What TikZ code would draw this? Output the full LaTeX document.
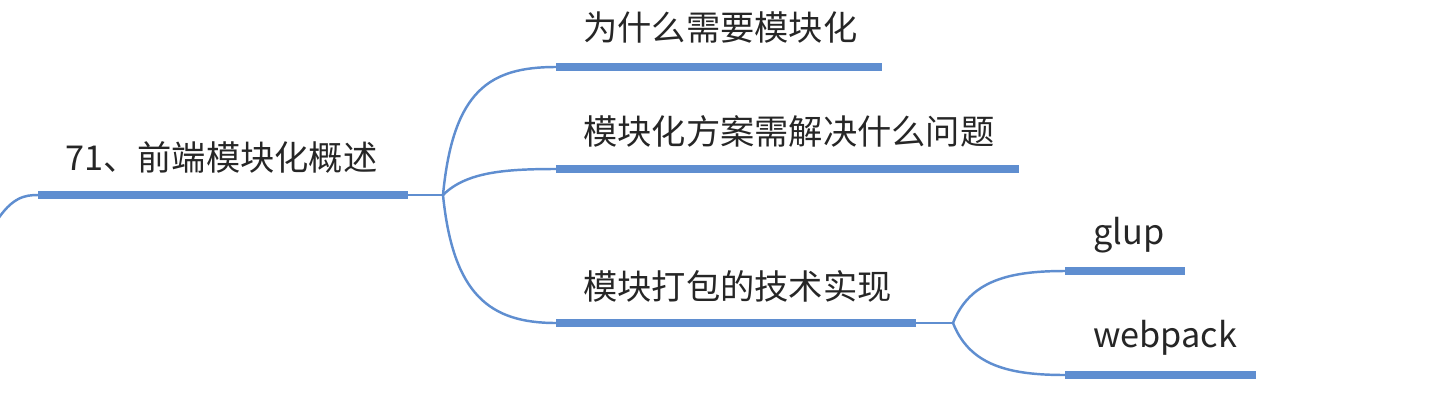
\documentclass[tikz,border=0pt]{standalone}
\usepackage{fontspec}
\setmainfont{Noto Sans CJK SC}
\usepackage{tikz}
\definecolor{branchblue}{RGB}{95,142,208}
\tikzset{
	bar/.style={branchblue,line width=4.5pt},
	link/.style={branchblue,line width=1.4pt},
	topic/.style={anchor=west,inner sep=0pt,text=black!85,font=\fontsize{19.5}{23}\selectfont}
}

\begin{document}
\begin{tikzpicture}[x=0.02cm,y=-0.02cm]
\useasboundingbox (0,0) rectangle (1438,400);

% bar end points
\coordinate (rootL) at (38,195);
\coordinate (rootR) at (408,195);
\coordinate (rootK) at (443,195);
\coordinate (aL) at (556,67);
\coordinate (aR) at (882,67);
\coordinate (bL) at (556,169);
\coordinate (bR) at (1019,169);
\coordinate (cL) at (556,323);
\coordinate (cR) at (916,323);
\coordinate (cK) at (953,323);
\coordinate (dL) at (1065,271);
\coordinate (dR) at (1185,271);
\coordinate (eL) at (1065,375);
\coordinate (eR) at (1256,375);
\coordinate (offL) at (-4,222);

% labels
\node[topic] (root) at (65,157) {71、前端模块化概述};
\node[topic] (why) at (583,28) {为什么需要模块化};
\node[topic] (solve) at (583,131) {模块化方案需解决什么问题};
\node[topic] (pack) at (583,286) {模块打包的技术实现};
\node[topic] (glup) at (1093,235) {glup};
\node[topic] (webpack) at (1093,338) {webpack};

% bars
\foreach \l/\r in {rootL/rootR,aL/aR,bL/bR,cL/cR,dL/dR,eL/eR}{
	\draw[bar] (\l) -- (\r);
	}

% links
\draw[link] (offL) .. controls (12,197) and (25,195) .. (rootL);
\draw[link] (rootR) -- (rootK);
\draw[link] (rootK) .. controls (453,90) and (490,67) .. (aL);
\draw[link] (rootK) .. controls (466,172) and (505,169) .. (bL);
\draw[link] (rootK) .. controls (453,295) and (490,323) .. (cL);
\draw[link] (cR) -- (cK);
\draw[link] (cK) .. controls (970,280) and (1010,271) .. (dL);
\draw[link] (cK) .. controls (970,366) and (1010,375) .. (eL);
\end{tikzpicture}
\end{document}
